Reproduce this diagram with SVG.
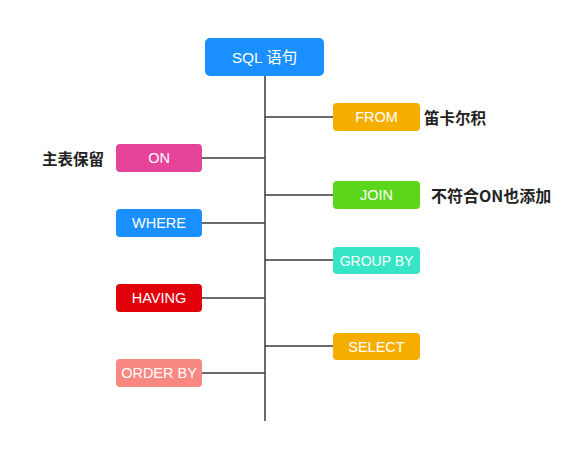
<svg xmlns="http://www.w3.org/2000/svg" width="574" height="464" viewBox="0 0 574 464">
<style>
.bx{stroke:none}
.t{font-family:"Liberation Sans","Noto Sans CJK SC",sans-serif;font-size:14.5px;fill:#fff;text-anchor:middle;dominant-baseline:central}
.lb{font-family:"Noto Sans CJK SC",sans-serif;font-size:15.5px;font-weight:bold;fill:#222;dominant-baseline:central}
.c{stroke:#3a3a3a;stroke-width:1.5;fill:none}
</style>
<rect width="574" height="464" fill="#fff"/>
<g id="connectors">
<line class="c" x1="265" y1="76" x2="265" y2="421"/>
<line class="c" x1="265" y1="117" x2="333" y2="117"/>
<line class="c" x1="265" y1="195" x2="333" y2="195"/>
<line class="c" x1="265" y1="260" x2="333" y2="260"/>
<line class="c" x1="265" y1="346" x2="333" y2="346"/>
<line class="c" x1="202" y1="158" x2="265" y2="158"/>
<line class="c" x1="202" y1="223" x2="265" y2="223"/>
<line class="c" x1="202" y1="298" x2="265" y2="298"/>
<line class="c" x1="202" y1="373" x2="265" y2="373"/>
</g>
<g id="sql"><rect class="bx" x="205" y="38" width="119" height="38" rx="5" fill="#1A8FFF"/><text class="t" x="264.5" y="57" style="font-size:15.5px">SQL 语句</text></g>
<g id="from"><rect class="bx" x="333" y="103" width="87" height="28" rx="4" fill="#F5AE00"/><text class="t" x="376.5" y="117">FROM</text></g>
<g id="join"><rect class="bx" x="333" y="181" width="87" height="28" rx="4" fill="#5BD61A"/><text class="t" x="376.5" y="195">JOIN</text></g>
<g id="groupby"><rect class="bx" x="333" y="247" width="87" height="27" rx="4" fill="#36E4C6"/><text class="t" x="376.5" y="260.5" style="font-size:14px">GROUP BY</text></g>
<g id="select"><rect class="bx" x="333" y="333" width="87" height="27" rx="4" fill="#F5AE00"/><text class="t" x="376.5" y="346.5">SELECT</text></g>
<g id="on"><rect class="bx" x="116" y="144" width="86" height="28" rx="4" fill="#E5449A"/><text class="t" x="159" y="158">ON</text></g>
<g id="where"><rect class="bx" x="116" y="209" width="86" height="28" rx="4" fill="#1A8FFF"/><text class="t" x="159" y="223">WHERE</text></g>
<g id="having"><rect class="bx" x="116" y="284" width="86" height="28" rx="4" fill="#E1000A"/><text class="t" x="159" y="298">HAVING</text></g>
<g id="orderby"><rect class="bx" x="116" y="359" width="86" height="28" rx="4" fill="#F98882"/><text class="t" x="159" y="373">ORDER BY</text></g>
<g id="labels">
<text class="lb" x="424" y="117">笛卡尔积</text>
<text class="lb" x="431" y="195" style="font-size:16px">不符合ON也添加</text>
<text class="lb" x="42" y="158">主表保留</text>
</g>
</svg>
